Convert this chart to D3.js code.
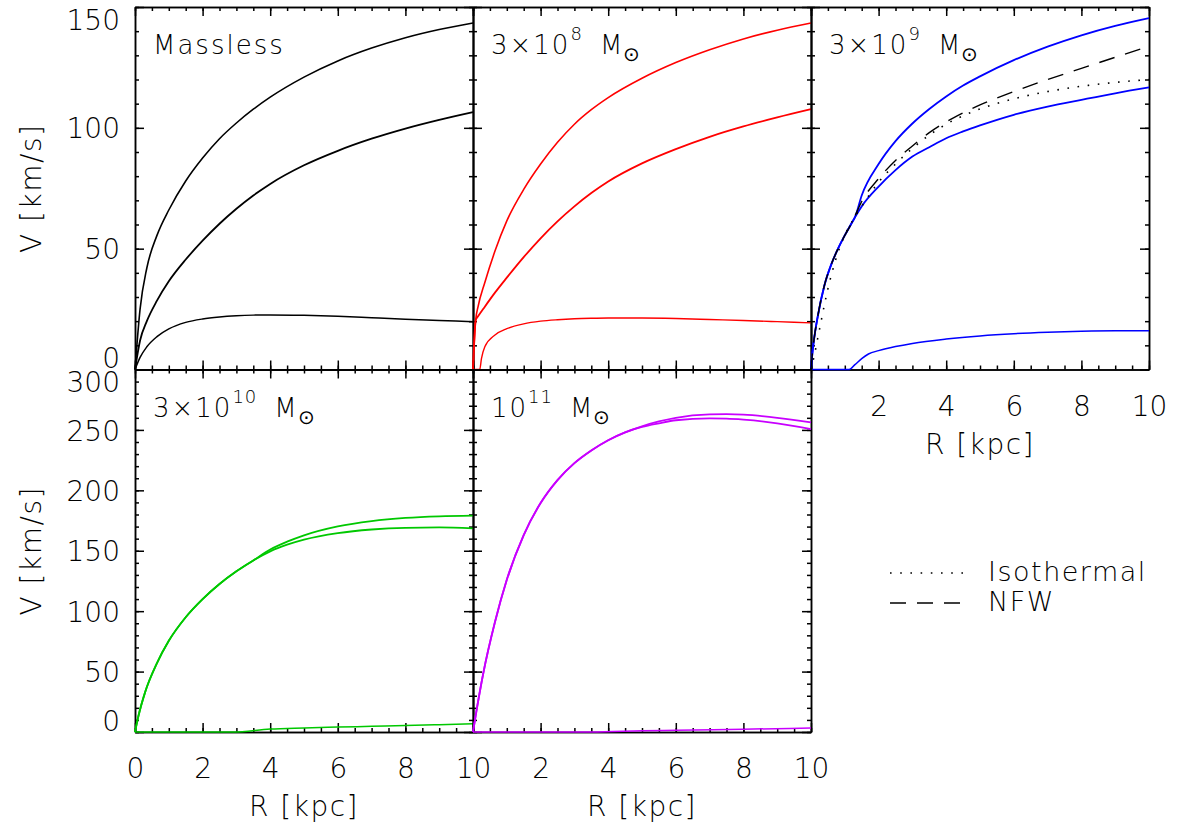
<html>
<script src='https://d3js.org/d3.v7.min.js'></script>
<style>
body { margin:0; background:white; }
text { font-family: 'DejaVu Sans', sans-serif; font-weight: 200; fill: black; }
</style>
<body>
<svg width=1182 height=832></svg>
<script>

// ---- data (R in kpc, V in km/s) ----
const R_std = [0,0.15,0.35,0.65,1,1.5,2,2.5,3,3.5,4,5,6,7,8,9,10];
const m0_top = [0,25,42,55.5,66,78,87.5,95.5,102,107.7,112.7,121,127.7,133,137.3,140.7,143.4];
const m0_mid = [0,12,20,28.5,36.5,45.5,53.3,60.3,66.5,72,76.8,84.5,90.5,95.5,99.7,103.3,106.5];
const m0_low = [0,5,9.4,13.6,16.8,19.5,20.9,21.7,22.2,22.5,22.6,22.4,22,21.4,20.8,20.3,19.8];

const R_red = [0,0.08,0.15,0.35,0.65,1,1.5,2,2.5,3,3.5,4,5,6,7,8,9,10];
const red_top = [0,20.5,26,36,49,61.5,74.5,85,94,101.5,107.5,112.5,120.5,127,132.3,136.8,140.4,143.4];
const red_mid = [0,20.5,22,26,31.8,38,46.5,54.3,61.3,67.5,73,77.8,85.3,91.2,96.3,100.6,104.3,107.7];
const R_red_low = [0,0.2,0.25,0.35,0.65,1,1.5,2,2.5,3,3.5,4,5,6,7,8,9,10];
const red_low = [0,0,4.5,9.4,14.3,16.9,18.9,20,20.6,21,21.2,21.3,21.3,21.1,20.7,20.3,19.8,19.3];

const R_blue = [0,0.05,0.1,0.2,0.4,0.6,0.8,1,1.2,1.3,1.5,2,2.5,3,3.5,4,4.5,5,6,7,8,9,10];
const blue_top = [0,8,13.5,22,35,43.5,50,55.5,60.5,63,72,85,94.5,101.8,107.8,113,117.5,121.3,128,133.6,138.3,142.2,145.4];
const blue_mid = [0,8,13.5,22,35,43.5,50,55.5,60.5,63,67.5,75.7,82.5,88.1,92,95.7,98.5,101,105.4,108.8,111.6,114.3,116.7];
const nfw      = [0,8,13.5,22,35,43.5,50,55.5,60.5,63.5,69.5,79,86.5,92.5,98,102.5,106.2,109.5,115,120,124.6,129.2,133.7];
const R_iso = [0,0.1,0.2,0.3,0.4,0.6,0.8,1,1.25,1.5,2,2.5,3,3.5,4,4.5,5,6,7,8,9,10];
const iso   = [0,6,13,20,27,39,48.5,55.5,62,67.5,77.5,85,91.5,97,101.5,105,107.8,112,115,117.2,118.8,120];
const R_blue_low = [0,1.13,1.3,1.5,1.7,2,2.5,3,4,5,6,7,8,9,10];
const blue_low = [0,0,2,4.5,6.4,7.8,9.5,10.8,12.6,13.9,14.8,15.4,15.8,16,16];

const R_grn = [0,0.1,0.3,0.65,1,1.5,2,2.5,3,3.5,4,4.5,5,6,7,8,9,10];
const grn_hi = [0,13,33,57,75.5,95,110,122.5,133,142,151,157.5,162.8,170.2,174.6,177.2,178.5,179];
const grn_lo = [0,13,33,57,75.5,95,110,122.5,133,142,149.5,155,159.2,164.6,167.6,169,169.3,168.6];
const R_grn_low = [0,2.9,4,5,6,7,8,9,10];
const grn_low = [0,0,2.5,3.4,4.1,4.7,5.3,6.1,6.9];

const R_mag = [0,0.1,0.3,0.65,1,1.5,2,2.5,3,3.5,4,4.5,5,5.5,6,7,7.5,8,9,10];
const mag_hi = [0,17,48,91,126,163,189.5,208.5,222.5,233,241.5,248,253,257,260,262.8,263,262.6,260,256.2];
const mag_lo = [0,17,48,91,126,163,189.5,208.5,222.5,233,241.5,248,252.5,255.5,258,259.5,259.3,258.5,255.5,250.7];
const R_mag_low = [0,3.5,5,6,8,10];
const mag_low = [0,0,1,1.5,2.3,3.3];

const xTicks = [0,2,4,6,8,10];
const yTicksTop = [0,50,100,150];
const yTicksBot = [0,50,100,150,200,250,300];

function pts(R, V) { return R.map((r,i) => [r, V[i]]); }

// ---- layout ----
var svg = d3.select("svg");
var pw = 338, ph = 362.5, left = 135, top0 = 7;

var panels = [
  {col:0,row:0,ymax:150,yt:yTicksTop,ylab:true,xlab:null,title:{base:"Massless"},
   curves:[[R_std,m0_low,"black",1.5],[R_std,m0_mid,"black",1.8],[R_std,m0_top,"black",1.6]]},
  {col:1,row:0,ymax:150,yt:yTicksTop,ylab:false,xlab:null,title:{base:"3×10",sup:"8"},
   curves:[[R_red_low,red_low,"#ff0000",1.4],[R_red,red_mid,"#ff0000",1.8],[R_red,red_top,"#ff0000",1.6]]},
  {col:2,row:0,ymax:150,yt:yTicksTop,ylab:false,xlab:[2,4,6,8,10],title:{base:"3×10",sup:"9"},
   curves:[[R_blue_low,blue_low,"#0000ff",1.5],[R_blue,blue_mid,"#0000ff",1.8],[R_blue,blue_top,"#0000ff",1.8],
           [R_iso,iso,"black",1.6,"1.6,8.6"],[R_blue,nfw,"black",1.4,"16,11"]]},
  {col:0,row:1,ymax:300,yt:yTicksBot,ylab:true,xlab:xTicks,title:{base:"3×10",sup:"10"},
   curves:[[R_grn_low,grn_low,"#00c800",1.5],[R_grn,grn_lo,"#00c800",1.8],[R_grn,grn_hi,"#00c800",1.8]]},
  {col:1,row:1,ymax:300,yt:yTicksBot,ylab:false,xlab:[2,4,6,8,10],title:{base:"10",sup:"11"},
   curves:[[R_mag_low,mag_low,"#c800ff",1.5],[R_mag,mag_lo,"#c800ff",1.8],[R_mag,mag_hi,"#c800ff",1.8]]}
];

function styleAxis(g) {
  g.attr("font-family", null).attr("font-size", 28);
  g.selectAll("path,line").attr("stroke", "black").attr("stroke-width", 1.5);
}

panels.forEach(function(p) {
  var x0 = left + p.col*pw, y0 = top0 + p.row*ph;
  var x = d3.scaleLinear().domain([0,10]).range([x0, x0+pw]);
  var y = d3.scaleLinear().domain([0,p.ymax]).range([y0+ph, y0]);
  var g = svg.append("g");

  var xMinor = d3.range(0, 10.01, 0.5), yMinor = d3.range(0, p.ymax+0.1, 10);
  var sides = [
    [d3.axisBottom(x), "translate(0,"+(y0+ph)+")", "x"],
    [d3.axisTop(x),    "translate(0,"+y0+")", "x"],
    [d3.axisLeft(y),   "translate("+x0+",0)", "y"],
    [d3.axisRight(y),  "translate("+(x0+pw)+",0)", "y"]
  ];
  sides.forEach(function(s) {
    var vals = s[2]=="x" ? xMinor : yMinor;
    var majors = s[2]=="x" ? xTicks : p.yt;
    g.append("g").attr("transform", s[1])
      .call(s[0].tickValues(vals).tickSize(-4).tickSizeOuter(0).tickFormat(""))
      .call(styleAxis);
    g.append("g").attr("transform", s[1])
      .call(s[0].tickValues(majors).tickSize(-9).tickSizeOuter(0).tickFormat(""))
      .call(styleAxis);
  });

  // x tick labels
  if (p.xlab) {
    var gx = g.append("g").attr("transform", "translate(0,"+(y0+ph)+")")
      .call(d3.axisBottom(x).tickValues(p.xlab).tickSize(0).tickFormat(d3.format("d")))
      .call(styleAxis);
    gx.select(".domain").remove();
    gx.selectAll("text").attr("y", 46).attr("dy", 0);
    svg.append("text").attr("x", x0+pw/2).attr("y", y0+ph+84)
      .attr("text-anchor","middle").attr("font-size",28).attr("letter-spacing",1.5)
      .text("R [kpc]");
  }
  // y tick labels
  if (p.ylab) {
    var gy = g.append("g").attr("transform", "translate("+x0+",0)")
      .call(d3.axisLeft(y).tickValues(p.yt).tickSize(0).tickPadding(15).tickFormat(d3.format("d")))
      .call(styleAxis);
    gy.select(".domain").remove();
    gy.selectAll("text").attr("dy","0.36em")
      .attr("transform", d => d===0 ? "translate(0,-12)" : d===p.ymax ? "translate(0,12)" : null);
    svg.append("text")
      .attr("transform","translate(41,"+(y0+ph/2)+") rotate(-90)")
      .attr("text-anchor","middle").attr("font-size",28).attr("letter-spacing",1.5)
      .text("V [km/s]");
  }

  // curves
  var line = d3.line().x(d => x(d[0])).y(d => y(d[1])).curve(d3.curveMonotoneX);
  p.curves.forEach(function(c) {
    g.append("path").datum(pts(c[0], c[1]))
      .attr("d", line).attr("fill","none")
      .attr("stroke", c[2]).attr("stroke-width", c[3])
      .attr("stroke-dasharray", c[4] || null);
  });

  // panel label
  var t = svg.append("text").attr("x", x0+18).attr("y", y0+47)
    .attr("font-size", 26).attr("letter-spacing", 2);
  t.append("tspan").text(p.title.base);
  if (p.title.sup) {
    t.append("tspan").attr("font-size",18).attr("dy",-14).attr("letter-spacing",1).text(p.title.sup);
    t.append("tspan").attr("dy",14).attr("dx",17).text("M");
    t.append("tspan").attr("font-size",20).attr("dy",7).attr("dx",-1).text("⊙");
  }
});

// legend
var leg = [[573,"1.6,8.6","Isothermal",581],[603,"16,11","NFW",611]];
leg.forEach(function(l) {
  svg.append("line").attr("x1",890).attr("x2",963).attr("y1",l[0]).attr("y2",l[0])
    .attr("stroke","black").attr("stroke-width",1.4).attr("stroke-dasharray",l[1]);
  svg.append("text").attr("x",988).attr("y",l[3]).attr("font-size",27).attr("letter-spacing",1.5).text(l[2]);
});

</script>
</body>
</html>
